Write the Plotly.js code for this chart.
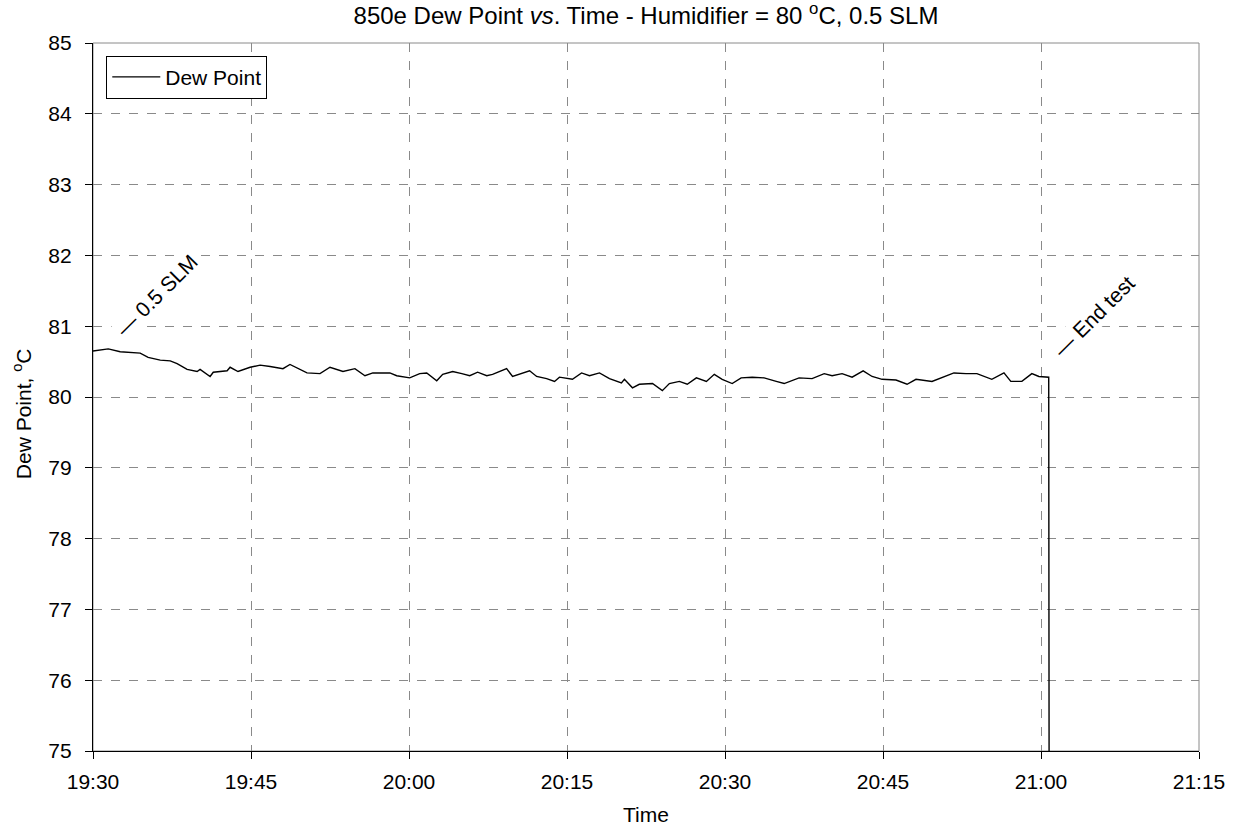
<!DOCTYPE html>
<html>
<head>
<meta charset="utf-8">
<script src="https://cdn.plot.ly/plotly-3.0.1.min.js"></script>
<style>html,body{margin:0;padding:0;background:#fff;}#chart{width:1238px;height:827px;}</style>
</head>
<body>
<div id="chart"></div>
<script>
const day = '2009-06-01';
const times = [
 '19:30:00','19:31:27','19:32:35','19:34:29','19:35:14','19:36:23','19:37:20','19:37:59','19:38:56','19:39:53',
 '19:40:10','19:41:07','19:41:25','19:42:44','19:43:01','19:43:46','19:44:55','19:45:52','19:46:49','19:48:02',
 '19:48:42','19:50:19','19:51:33','19:52:30','19:53:44','19:54:52','19:55:49','19:56:34','19:58:11','19:58:50',
 '20:00:04','20:01:01','20:01:41','20:02:38','20:03:12','20:04:09','20:05:01','20:05:46','20:06:31','20:07:23',
 '20:07:56','20:09:16','20:09:50','20:11:27','20:12:07','20:13:04','20:13:49','20:14:17','20:15:31','20:16:23',
 '20:17:08','20:18:05','20:19:02','20:20:10','20:20:27','20:21:13','20:21:52','20:23:07','20:24:03','20:24:43',
 '20:25:40','20:26:25','20:27:17','20:28:14','20:28:59','20:29:44','20:30:41','20:31:32','20:32:35','20:33:43',
 '20:34:52','20:35:37','20:37:02','20:38:16','20:39:25','20:40:10','20:41:07','20:42:04','20:43:07','20:43:58',
 '20:44:55','20:46:14','20:47:17','20:48:08','20:49:39','20:50:36','20:51:44','20:52:53','20:53:55','20:55:20',
 '20:56:29','20:57:08','20:58:11','20:59:08','20:59:48','21:00:44','21:00:46'
];
const dewPoint = [
 80.65,80.68,80.64,80.62,80.56,80.52,80.51,80.47,80.39,80.36,
 80.39,80.29,80.35,80.37,80.42,80.36,80.42,80.45,80.43,80.40,
 80.46,80.34,80.33,80.42,80.36,80.40,80.30,80.34,80.34,80.30,
 80.27,80.33,80.34,80.23,80.32,80.36,80.33,80.30,80.35,80.30,
 80.32,80.40,80.29,80.37,80.29,80.26,80.22,80.28,80.25,80.34,
 80.30,80.34,80.26,80.20,80.25,80.13,80.18,80.19,80.09,80.19,
 80.22,80.18,80.27,80.22,80.32,80.25,80.19,80.27,80.28,80.27,
 80.22,80.19,80.27,80.26,80.33,80.30,80.33,80.28,80.37,80.29,
 80.25,80.24,80.18,80.25,80.22,80.28,80.34,80.33,80.33,80.25,
 80.34,80.22,80.22,80.33,80.29,80.28,75.00
];
const seriesName = 'Dew Point';
const chartTitle = '850e Dew Point <i>vs</i>. Time - Humidifier = 80 <sup>o</sup>C, 0.5 SLM';
const xTitle = 'Time';
const yTitle = 'Dew Point, <sup>o</sup>C';
const xRange = ['19:30','21:15'];
const yRange = [75, 85];
const notes = [
 {t:'19:36:00', v:81.44, text:'— 0.5 SLM'},
 {t:'21:05:00', v:81.14, text:'— End test'}
];

const FONT = 'Liberation Sans, Arial, sans-serif';
const TF = 21;
const x = times.map(t => day + ' ' + t);

const trace = {
  x: x, y: dewPoint, type: 'scatter', mode: 'lines', name: seriesName,
  line: {color: '#000', width: 1.4}
};

const layout = {
  width: 1238, height: 827,
  margin: {l: 93, r: 39, t: 43, b: 76},
  paper_bgcolor: '#fff', plot_bgcolor: '#fff',
  font: {family: FONT, size: TF, color: '#000'},
  title: {text: chartTitle, x: 0.5, xref: 'paper', y: 0.981, yref: 'container', yanchor: 'middle',
          font: {family: FONT, size: 24, color: '#000'}},
  showlegend: true,
  legend: {x: 0.012, y: 0.982, xanchor: 'left', yanchor: 'top', bgcolor: '#fff',
           bordercolor: '#000', borderwidth: 1, itemwidth: 48,
           font: {family: FONT, size: TF, color: '#000'}},
  xaxis: {
    type: 'date', range: [day + ' ' + xRange[0], day + ' ' + xRange[1]],
    dtick: 900000, tick0: day + ' ' + xRange[0], tickformat: '%H:%M',
    showgrid: true, gridcolor: '#8a8a8a', griddash: 'dash', gridwidth: 1,
    showline: true, linecolor: '#000', linewidth: 1.2,
    ticks: 'outside', ticklen: 7, tickcolor: '#000', tickwidth: 1,
    ticklabelstandoff: 5,
    tickfont: {family: FONT, size: TF, color: '#000'},
    zeroline: false, fixedrange: true
  },
  yaxis: {
    range: yRange, dtick: 1,
    showgrid: true, gridcolor: '#8a8a8a', griddash: 'dash', gridwidth: 1,
    showline: true, linecolor: '#000', linewidth: 1.2,
    ticks: 'outside', ticklen: 7, tickcolor: '#000', tickwidth: 1,
    ticklabelstandoff: 9,
    tickfont: {family: FONT, size: TF, color: '#000'},
    zeroline: false, fixedrange: true
  },
  shapes: [
    {type: 'rect', xref: 'paper', yref: 'paper', x0: 0, x1: 1, y0: 0, y1: 1,
     line: {color: '#8a8a8a', width: 1}, layer: 'below'}
  ],
  annotations: notes.map(n => ({
    x: day + ' ' + n.t, y: n.v, xref: 'x', yref: 'y', text: n.text, showarrow: false,
    textangle: -45, bgcolor: '#fff', font: {family: FONT, size: TF, color: '#000'}
  })).concat([
    {x: -0.064, y: 0.476, xref: 'paper', yref: 'paper', xanchor: 'center', yanchor: 'middle',
     text: yTitle, showarrow: false, textangle: -90, font: {family: FONT, size: TF, color: '#000'}},
    {x: 0.5, y: -0.089, xref: 'paper', yref: 'paper', xanchor: 'center', yanchor: 'middle',
     text: xTitle, showarrow: false, font: {family: FONT, size: TF, color: '#000'}}
  ])
};

Plotly.newPlot('chart', [trace], layout, {displayModeBar: false, staticPlot: true});
</script>
</body>
</html>
